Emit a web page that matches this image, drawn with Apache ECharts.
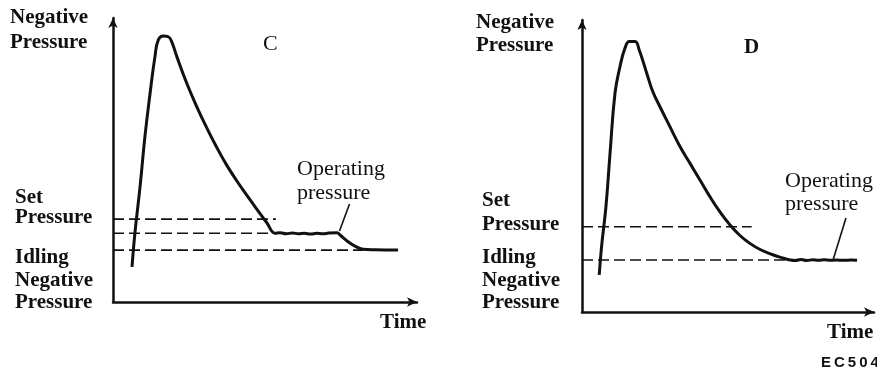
<!DOCTYPE html>
<html>
<head>
<meta charset="utf-8">
<script src="https://cdn.jsdelivr.net/npm/echarts@6/dist/echarts.min.js"></script>
<style>
html,body{margin:0;padding:0;background:#fff;}
#chart{width:877px;height:373px;}
</style>
</head>
<body>
<div id="chart"></div>
<script>
// Panel C: time (0-100) vs negative pressure (0-100)
var curveC = [
  [6.25,12.4],[7.2,24.2],[8.9,40.6],[10.5,58.2],[12.2,73.5],[13.8,86.4],[14.9,92.3],
  [16.5,93.7],[18.2,93.4],[19.3,91.7],[21.0,86.4],[24.2,77.2],[27.5,68.9],[30.8,61.4],
  [34.1,54.5],[37.4,48.2],[40.7,42.7],[44.0,37.6],[47.3,32.7],[50.6,27.9],[53.3,24.2],
  [55,24.4],[57,24.0],[59,24.3],[61,24.0],[63,24.2],[65,23.9],[67,24.2],[69,24.0],
  [71,24.3],[73.7,24.4],[74.7,23.6],[77.0,21.5],[79.6,19.7],[82.2,18.6],[86,18.4],[93.75,18.3]
];
var setC = [[0,29.2],[53.6,29.2]];
var operC = [[0,24.2],[53.3,24.2]];
var idleC = [[0,18.3],[82.2,18.3]];
var pointerC = [[77.8,34.5],[74.5,25.0]];

// Panel D
var curveD = [
  [5.9,12.7],[6.7,22.4],[8.2,36.1],[9.6,54.3],[11.3,74.9],[13.0,84.0],[14.7,90.3],
  [16.2,92.6],[18.2,92.6],[19.6,89.7],[22.2,81.7],[24.2,75.6],[26.7,70.3],[30.1,63.5],
  [33.6,56.6],[37.0,50.9],[40.4,45.2],[43.8,39.5],[47.3,34.2],[50.7,29.8],[54.1,26.2],
  [57.5,23.5],[61.0,21.4],[65.1,19.7],[69.1,18.4],[71.3,17.8],[73,17.6],[75,18.0],[77,17.6],[79,17.9],
  [81,17.7],[83,17.9],[85,17.7],[87,17.8],[90,17.7],[92,17.8],[94.2,17.7]
];
var setD = [[0,29.2],[58.1,29.2]];
var idleD = [[0,17.8],[94.2,17.8]];
var pointerD = [[90.4,32.2],[86.0,17.9]];

var chart = echarts.init(document.getElementById('chart'), null, {renderer:'canvas'});
var ink = '#111';
function axisX(i){
  return {type:'value', gridIndex:i, min:0, max:100,
    axisLine:{show:true, lineStyle:{color:ink, width:2.5}, symbol:['none','arrow'], symbolSize:[7,10]},
    axisTick:{show:false}, axisLabel:{show:false}, splitLine:{show:false}};
}
function axisY(i){
  return {type:'value', gridIndex:i, min:0, max:100,
    axisLine:{show:true, onZero:false, lineStyle:{color:ink, width:2.5}, symbol:['none','arrow'], symbolSize:[7,10]},
    axisTick:{show:false}, axisLabel:{show:false}, splitLine:{show:false}};
}
function curve(data, i){
  return {type:'line', xAxisIndex:i, yAxisIndex:i, data:data, smooth:0.45, showSymbol:false,
    lineStyle:{color:ink, width:3}, silent:true, animation:false, z:5};
}
function dashed(data, i){
  return {type:'line', xAxisIndex:i, yAxisIndex:i, data:data, showSymbol:false,
    lineStyle:{color:ink, width:1.7, type:[11,5]}, silent:true, animation:false, z:3};
}
function pointer(data, i){
  return {type:'line', xAxisIndex:i, yAxisIndex:i, data:data, showSymbol:false,
    lineStyle:{color:ink, width:1.6}, silent:true, animation:false, z:4};
}
var font = 'bold 21px "Liberation Serif"';
var fontR = '22px "Liberation Serif"';
function txt(t, x, capTop, f){
  return {type:'text', x:x, y:capTop-3, style:{text:t, font:f||font, fill:ink, textVerticalAlign:'top'}};
}
chart.setOption({
  backgroundColor:'#fff',
  animation:false,
  grid:[
    {left:113, top:18, width:304, height:284},
    {left:582, top:20, width:292, height:292}
  ],
  xAxis:[axisX(0), axisX(1)],
  yAxis:[axisY(0), axisY(1)],
  series:[
    curve(curveC,0), dashed(setC,0), dashed(operC,0), dashed(idleC,0), pointer(pointerC,0),
    curve(curveD,1), dashed(setD,1), dashed(idleD,1), pointer(pointerD,1)
  ],
  graphic:[
    txt('Negative',10,10), txt('Pressure',10,35), txt('C',263,36,fontR),
    txt('Set',15,190), txt('Pressure',15,210),
    txt('Idling',15,250), txt('Negative',15,273), txt('Pressure',15,295),
    txt('Operating',297,161,fontR), txt('pressure',297,185,fontR),
    txt('Time',380,315),
    txt('Negative',476,15), txt('Pressure',476,38), txt('D',744,40),
    txt('Set',482,193), txt('Pressure',482,217),
    txt('Idling',482,250), txt('Negative',482,273), txt('Pressure',482,295),
    txt('Operating',785,173,fontR), txt('pressure',785,196,fontR),
    txt('Time',827,325),
    {type:'text', x:821, y:355, style:{text:'E\u2009C\u20095\u20090\u20094', font:'bold 15px "Liberation Sans"', fill:ink, textVerticalAlign:'top'}}
  ]
});
</script>
</body>
</html>
